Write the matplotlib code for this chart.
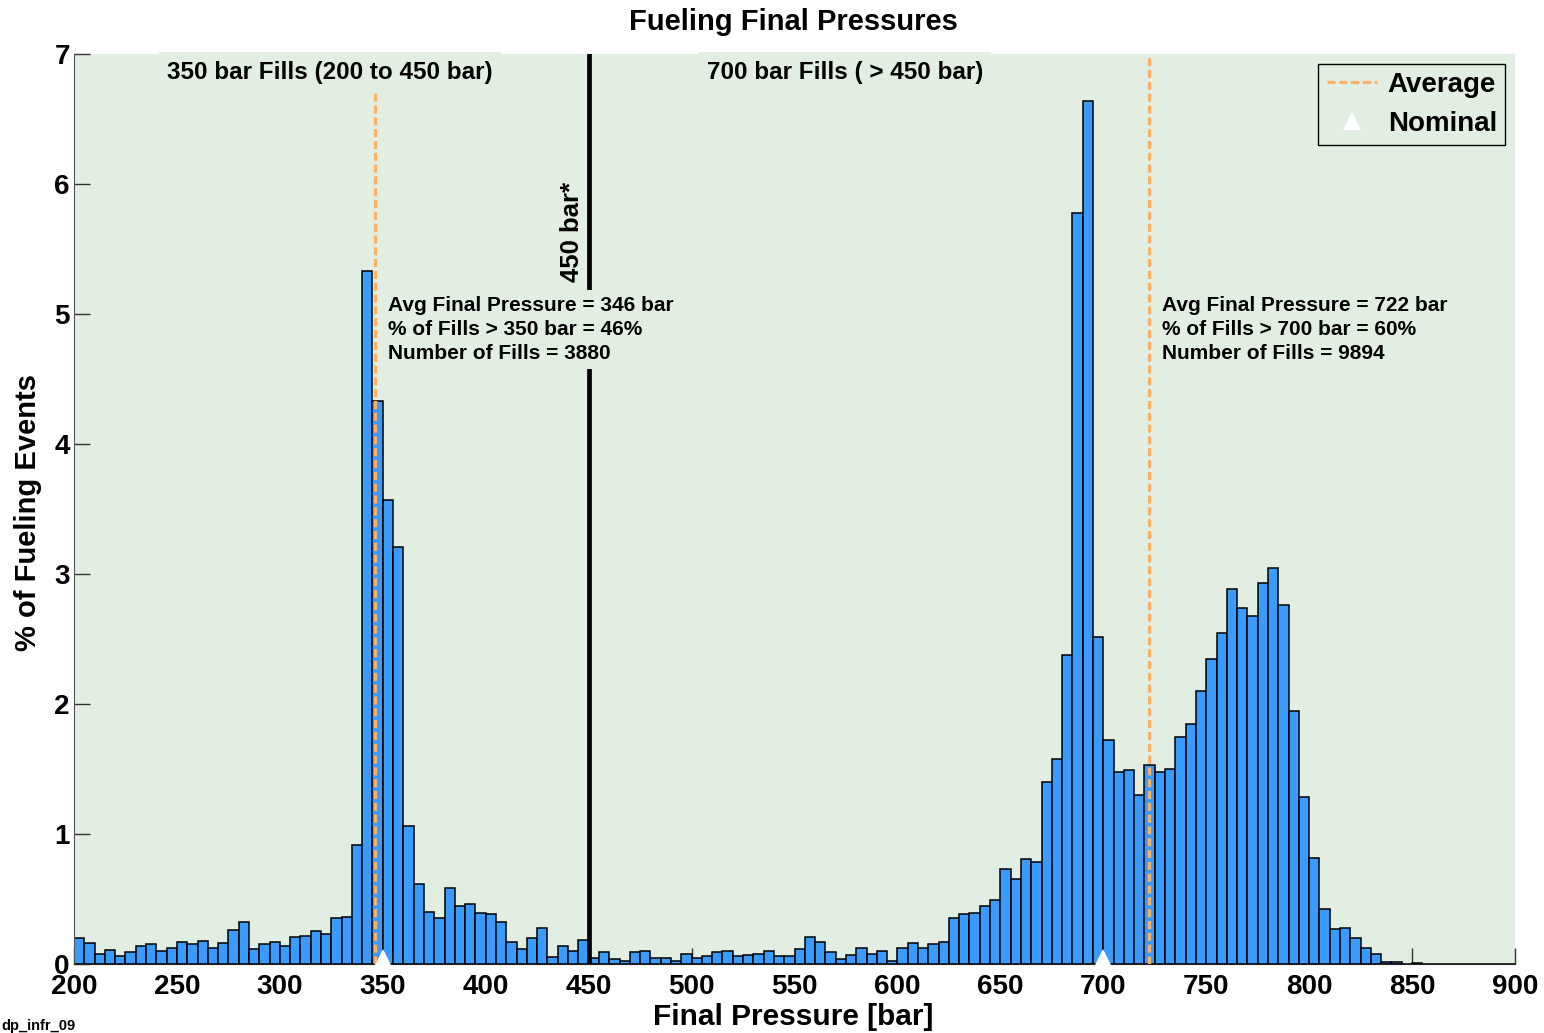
import numpy as np
import matplotlib
matplotlib.use("Agg")
import matplotlib.pyplot as plt
from matplotlib.transforms import offset_copy

plt.rcParams['font.family'] = ['Liberation Sans', 'DejaVu Sans']
plt.rcParams['font.weight'] = 'bold'

# histogram: 5 bar bins starting at 200 bar
bin_start = 200
bin_width = 5
pct_events = [
    0.197, 0.159, 0.079, 0.105, 0.064, 0.090, 0.136, 0.151, 0.097, 0.126,   # 200-245
    0.169, 0.151, 0.179, 0.126, 0.159, 0.259, 0.321, 0.115, 0.151, 0.169,   # 250-295
    0.136, 0.208, 0.215, 0.251, 0.233, 0.351, 0.359, 0.913, 5.33, 4.33,     # 300-345
    3.57, 3.21, 1.064, 0.615, 0.403, 0.351, 0.582, 0.446, 0.464, 0.395,     # 350-395
    0.385, 0.321, 0.172, 0.115, 0.197, 0.279, 0.054, 0.136, 0.097, 0.187,   # 400-445
    0.044, 0.090, 0.036, 0.026, 0.090, 0.097, 0.044, 0.044, 0.026, 0.079,   # 450-495
    0.044, 0.064, 0.090, 0.097, 0.064, 0.072, 0.079, 0.097, 0.064, 0.064,   # 500-545
    0.115, 0.205, 0.169, 0.090, 0.041, 0.072, 0.126, 0.079, 0.097, 0.026,   # 550-595
    0.126, 0.159, 0.126, 0.151, 0.169, 0.351, 0.385, 0.392, 0.446, 0.492,   # 600-645
    0.733, 0.651, 0.810, 0.787, 1.40, 1.577, 2.377, 5.78, 6.64, 2.518,      # 650-695
    1.72, 1.48, 1.49, 1.30, 1.533, 1.48, 1.50, 1.75, 1.85, 2.10,            # 700-745
    2.35, 2.55, 2.887, 2.74, 2.68, 2.93, 3.05, 2.765, 1.946, 1.286,         # 750-795
    0.813, 0.42, 0.267, 0.279, 0.197, 0.126, 0.079, 0.018, 0.015, 0.003,    # 800-845
    0.008, 0.002, 0.002, 0.001, 0.001, 0.001, 0.001, 0.001, 0.001, 0.001,   # 850-895
]

avg_pressure = [346, 722]
nominal_pressure = [350, 700]
divider = 450

stats_350 = ["Avg Final Pressure = 346 bar", "% of Fills > 350 bar = 46%", "Number of Fills = 3880"]
stats_700 = ["Avg Final Pressure = 722 bar", "% of Fills > 700 bar = 60%", "Number of Fills = 9894"]

bg = '#E3EEE3'
bar_col = '#3A9BFF'
avg_col = '#FFB061'

fig = plt.figure(figsize=(15.44, 10.33), dpi=100)
ax = fig.add_axes([74/1544, 1-964/1033, (1515-74)/1544, (964-54)/1033])
ax.set_facecolor(bg)

edges = bin_start + bin_width*np.arange(len(pct_events))
ax.bar(edges, pct_events, width=bin_width, align='edge', color=bar_col,
       edgecolor='black', linewidth=1.1, zorder=2)

# average lines
for a in avg_pressure:
    ax.axvline(a, color=avg_col, lw=2.3, ls=(0, (2.5, 1.2)), zorder=3)
avg_handle, = ax.plot([], [], color=avg_col, lw=2.3, ls=(0, (2.5, 1.2)), label='Average')

# 450 bar divider
ax.axvline(divider, color='black', lw=3.4, zorder=3)
ax.text(442.0, 5.25, '450 bar*', rotation=90, ha='center', va='bottom',
        fontsize=18.5, fontweight='bold', zorder=4)

# nominal markers sitting on the baseline
tr = offset_copy(ax.transData, fig=fig, x=0, y=6, units='dots')
nom_handle, = ax.plot(nominal_pressure, [0]*len(nominal_pressure), '^', color='white',
                      markersize=13, markeredgewidth=0, transform=tr, clip_on=False,
                      zorder=5, label='Nominal', ls='none')

box = dict(facecolor=bg, edgecolor='none', pad=4)
ax.text(352.5, 5.14, '\n'.join(stats_350), ha='left', va='top', fontsize=15,
        fontweight='bold', linespacing=1.34, bbox=box, zorder=6)
ax.text(728.5, 5.14, '\n'.join(stats_700), ha='left', va='top', fontsize=15,
        fontweight='bold', linespacing=1.34, bbox=box, zorder=6)
ax.text(324.4, 6.86, '350 bar Fills (200 to 450 bar)', ha='center', va='center',
        fontsize=17.5, fontweight='bold', bbox=dict(facecolor=bg, edgecolor='none', pad=6), zorder=6)
ax.text(574.5, 6.86, '700 bar Fills ( > 450 bar)', ha='center', va='center',
        fontsize=17.5, fontweight='bold', bbox=dict(facecolor=bg, edgecolor='none', pad=6), zorder=6)

ax.set_xlim(200, 900)
ax.set_ylim(0, 7)
ax.set_xticks(np.arange(200, 901, 50))
ax.set_yticks(np.arange(0, 8, 1))
ax.set_axisbelow(True)
ax.tick_params(direction='in', length=11.5, width=1, color='#333333', labelsize=20)
ax.tick_params(axis='x', pad=7)
ax.tick_params(axis='y', pad=3)
for lab in ax.get_xticklabels() + ax.get_yticklabels():
    lab.set_fontweight('bold')
for s in ['top', 'right']:
    ax.spines[s].set_visible(False)
ax.spines['left'].set_color('#555555')
ax.spines['bottom'].set_color('#222222')

leg = ax.legend(handles=[avg_handle, nom_handle], loc='upper right', fontsize=20,
                frameon=True, fancybox=False, borderaxespad=0.35, handlelength=1.8,
                handletextpad=0.4, borderpad=0.3, labelspacing=0.45)
leg.get_frame().set_edgecolor('black')
leg.get_frame().set_facecolor(bg)
leg.get_frame().set_alpha(1)
leg.get_frame().set_linewidth(1)
for t in leg.get_texts():
    t.set_fontweight('bold')

fig.text(793/1544, 1-22/1033, 'Fueling Final Pressures', ha='center', va='center',
         fontsize=21, fontweight='bold')
fig.text(793/1544, 1-1017/1033, 'Final Pressure [bar]', ha='center', va='center',
         fontsize=21.5, fontweight='bold')
fig.text(28/1544, 1-513/1033, '% of Fueling Events', ha='center', va='center',
         rotation=90, fontsize=21, fontweight='bold')
fig.text(0.001, 1-1026/1033, 'dp_infr_09', ha='left', va='center', fontsize=10.5,
         fontweight='bold')

fig.savefig('out.png', dpi=100, facecolor='white')
